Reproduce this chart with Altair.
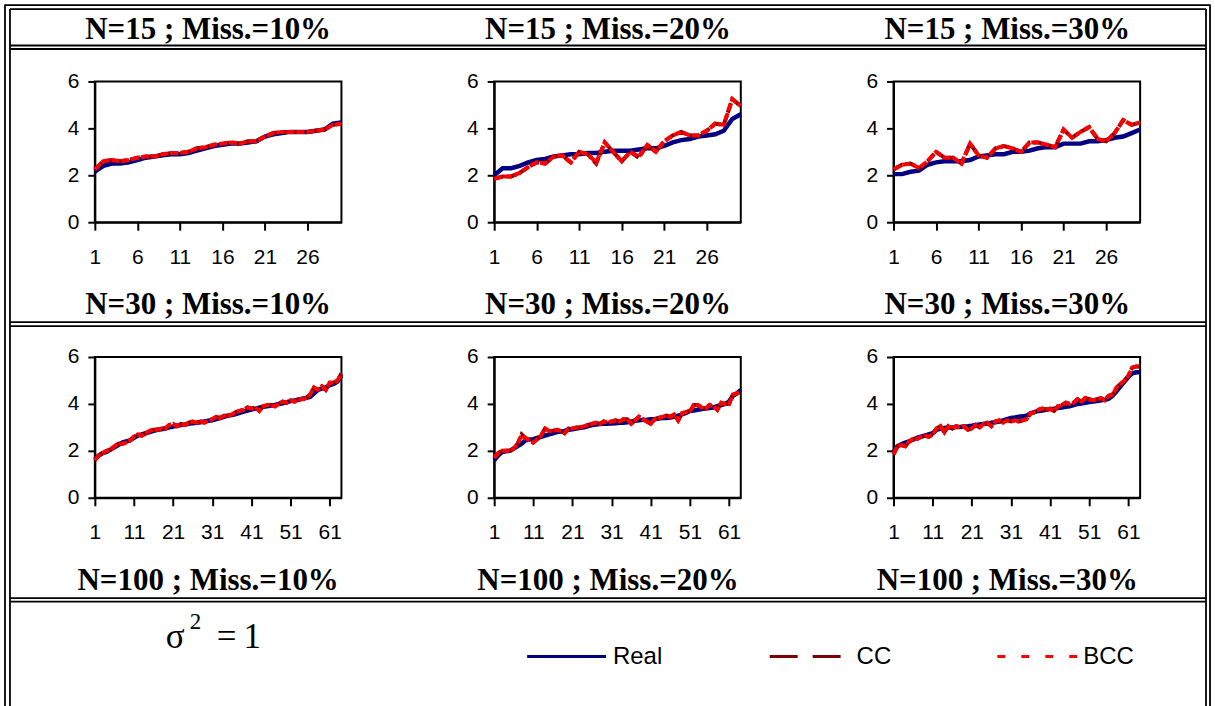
import altair as alt
import pandas as pd

# ---------------- data ----------------
x_top = list(range(1, 31))
x_bottom = list(range(1, 65))
ticks_top = [1, 6, 11, 16, 21, 26]
ticks_bottom = [1, 11, 21, 31, 41, 51, 61]
y_ticks = [0, 2, 4, 6]

row_titles = [
    ["N=15 ; Miss.=10%", "N=15 ; Miss.=20%", "N=15 ; Miss.=30%"],
    ["N=30 ; Miss.=10%", "N=30 ; Miss.=20%", "N=30 ; Miss.=30%"],
    ["N=100 ; Miss.=10%", "N=100 ; Miss.=20%", "N=100 ; Miss.=30%"],
]
series_names = ["Real", "CC", "BCC"]
sigma_parts = ["\u03c3", "2", "=", "1"]

# N=15
real_15_10 = [2.15, 2.4, 2.5, 2.5, 2.55, 2.65, 2.75, 2.8, 2.85, 2.9, 2.9, 2.95, 3.05, 3.15, 3.25,
              3.3, 3.35, 3.35, 3.4, 3.45, 3.65, 3.75, 3.8, 3.85, 3.85, 3.85, 3.9, 3.95, 4.2, 4.25]
cc_15_10 = [2.25, 2.6, 2.65, 2.6, 2.65, 2.75, 2.8, 2.8, 2.9, 2.95, 2.95, 3.0, 3.15, 3.2, 3.3,
            3.35, 3.4, 3.35, 3.45, 3.45, 3.65, 3.8, 3.85, 3.85, 3.85, 3.85, 3.9, 3.95, 4.15, 4.2]
bcc_15_10 = [2.25, 2.6, 2.65, 2.6, 2.65, 2.75, 2.8, 2.8, 2.9, 2.95, 2.95, 3.0, 3.15, 3.2, 3.3,
             3.35, 3.4, 3.35, 3.45, 3.45, 3.65, 3.8, 3.85, 3.85, 3.85, 3.85, 3.9, 3.95, 4.15, 4.2]

real_15_20 = [2.0, 2.3, 2.3, 2.4, 2.55, 2.65, 2.7, 2.8, 2.85, 2.9, 2.9, 2.95, 2.95, 3.0, 3.05,
              3.05, 3.05, 3.1, 3.15, 3.15, 3.25, 3.4, 3.5, 3.55, 3.65, 3.7, 3.75, 3.9, 4.4, 4.6]
cc_15_20 = [1.85, 1.95, 1.95, 2.1, 2.35, 2.55, 2.5, 2.8, 2.85, 2.55, 3.0, 2.9, 2.5, 3.4, 3.0,
            2.6, 3.0, 2.75, 3.3, 3.0, 3.45, 3.7, 3.85, 3.7, 3.7, 3.9, 4.2, 4.15, 5.25, 4.95]
bcc_15_20 = [1.85, 1.95, 1.95, 2.1, 2.35, 2.55, 2.5, 2.8, 2.85, 2.55, 3.0, 2.9, 2.55, 3.4, 3.0,
             2.6, 3.0, 2.8, 3.3, 3.0, 3.45, 3.7, 3.85, 3.7, 3.7, 3.9, 4.2, 4.15, 5.25, 4.95]

real_15_30 = [2.05, 2.05, 2.15, 2.2, 2.45, 2.55, 2.6, 2.6, 2.6, 2.65, 2.8, 2.85, 2.9, 2.9, 3.0,
              3.0, 3.05, 3.15, 3.2, 3.2, 3.35, 3.35, 3.35, 3.45, 3.45, 3.5, 3.6, 3.65, 3.8, 3.95]
cc_15_30 = [2.25, 2.45, 2.5, 2.3, 2.6, 3.0, 2.75, 2.75, 2.5, 3.35, 2.85, 2.75, 3.15, 3.25, 3.15,
            3.0, 3.4, 3.4, 3.3, 3.2, 3.95, 3.6, 3.85, 4.05, 3.55, 3.45, 3.8, 4.35, 4.15, 4.25]
bcc_15_30 = [2.25, 2.45, 2.5, 2.3, 2.6, 3.0, 2.75, 2.75, 2.5, 3.35, 2.85, 2.75, 3.15, 3.25, 3.15,
             3.0, 3.4, 3.4, 3.3, 3.2, 3.95, 3.6, 3.85, 4.05, 3.55, 3.45, 3.8, 4.35, 4.15, 4.25]

# N=30
real_30_10 = [1.65, 1.8, 1.9, 1.95, 2.05, 2.15, 2.25, 2.35, 2.4, 2.45, 2.55, 2.65, 2.7, 2.75, 2.8,
              2.85, 2.9, 2.92, 2.95, 3.0, 3.04, 3.07, 3.1, 3.12, 3.15, 3.18, 3.2, 3.22, 3.25, 3.28,
              3.3, 3.35, 3.4, 3.45, 3.5, 3.53, 3.57, 3.62, 3.67, 3.72, 3.76, 3.8, 3.84, 3.88, 3.9,
              3.93, 3.96, 4.0, 4.03, 4.07, 4.12, 4.15, 4.18, 4.22, 4.26, 4.3, 4.45, 4.6, 4.65, 4.7,
              4.8, 4.85, 4.95, 5.2]
cc_30_10 = [1.6, 1.8, 1.9, 2.0, 2.05, 2.2, 2.3, 2.3, 2.35, 2.45, 2.6, 2.7, 2.65, 2.75, 2.85,
            2.9, 2.9, 2.95, 2.95, 3.1, 3.15, 3.05, 3.15, 3.1, 3.2, 3.25, 3.2, 3.25, 3.2, 3.3,
            3.35, 3.45, 3.4, 3.5, 3.5, 3.55, 3.65, 3.7, 3.75, 3.85, 3.8, 3.85, 3.7, 3.9, 3.95,
            3.95, 3.9, 4.0, 4.1, 4.05, 4.15, 4.1, 4.2, 4.2, 4.25, 4.4, 4.7, 4.6, 4.75, 4.6,
            4.9, 4.9, 5.0, 5.3]
bcc_30_10 = [1.6, 1.8, 1.9, 2.0, 2.05, 2.2, 2.3, 2.3, 2.35, 2.45, 2.6, 2.7, 2.65, 2.75, 2.85,
             2.9, 2.9, 2.95, 2.95, 3.1, 3.15, 3.05, 3.15, 3.1, 3.2, 3.25, 3.2, 3.25, 3.2, 3.3,
             3.35, 3.45, 3.4, 3.5, 3.5, 3.55, 3.65, 3.7, 3.75, 3.85, 3.8, 3.85, 3.7, 3.9, 3.95,
             3.95, 3.9, 4.0, 4.1, 4.05, 4.15, 4.1, 4.2, 4.2, 4.25, 4.4, 4.7, 4.6, 4.75, 4.6,
             4.9, 4.9, 5.0, 5.3]

real_30_20 = [1.6, 1.8, 1.95, 1.98, 2.0, 2.1, 2.2, 2.3, 2.45, 2.48, 2.5, 2.55, 2.6, 2.65, 2.7,
              2.75, 2.8, 2.82, 2.85, 2.9, 2.92, 2.95, 2.98, 3.0, 3.05, 3.1, 3.12, 3.14, 3.15, 3.15,
              3.17, 3.18, 3.2, 3.2, 3.22, 3.25, 3.28, 3.3, 3.32, 3.33, 3.35, 3.35, 3.38, 3.4, 3.4,
              3.42, 3.45, 3.5, 3.55, 3.62, 3.7, 3.72, 3.75, 3.78, 3.8, 3.82, 3.85, 3.9, 3.95, 4.0,
              4.1, 4.35, 4.45, 4.6]
cc_30_20 = [1.7, 1.9, 2.0, 2.0, 2.0, 2.1, 2.3, 2.7, 2.55, 2.45, 2.35, 2.5, 2.65, 2.95, 2.85,
            2.85, 2.9, 2.85, 2.75, 2.95, 2.95, 3.0, 3.0, 3.05, 3.1, 3.15, 3.2, 3.15, 3.25, 3.2,
            3.25, 3.3, 3.25, 3.35, 3.35, 3.15, 3.3, 3.45, 3.35, 3.25, 3.15, 3.35, 3.4, 3.45, 3.5,
            3.45, 3.55, 3.3, 3.6, 3.65, 3.7, 3.95, 3.95, 3.85, 3.8, 3.95, 3.9, 3.75, 4.05, 4.0,
            4.0, 4.4, 4.45, 4.5]
bcc_30_20 = [1.7, 1.9, 2.0, 2.0, 2.0, 2.1, 2.3, 2.65, 2.55, 2.45, 2.35, 2.5, 2.65, 2.95, 2.85,
             2.85, 2.9, 2.85, 2.75, 2.95, 2.95, 3.0, 3.0, 3.05, 3.1, 3.15, 3.2, 3.15, 3.25, 3.2,
             3.25, 3.3, 3.25, 3.35, 3.35, 3.15, 3.3, 3.45, 3.35, 3.25, 3.15, 3.35, 3.4, 3.45, 3.5,
             3.45, 3.55, 3.3, 3.6, 3.65, 3.7, 3.95, 3.95, 3.85, 3.8, 3.95, 3.9, 3.75, 4.05, 4.0,
             4.0, 4.4, 4.45, 4.5]

real_30_30 = [1.95, 2.2, 2.28, 2.35, 2.4, 2.48, 2.55, 2.6, 2.65, 2.7, 2.75, 2.9, 2.95, 2.97, 3.0,
              3.0, 3.02, 3.02, 3.04, 3.05, 3.07, 3.1, 3.12, 3.14, 3.16, 3.2, 3.22, 3.25, 3.3, 3.35,
              3.4, 3.42, 3.45, 3.47, 3.5, 3.6, 3.65, 3.7, 3.72, 3.75, 3.78, 3.8, 3.83, 3.85, 3.88,
              3.9, 3.95, 4.0, 4.02, 4.05, 4.08, 4.1, 4.12, 4.15, 4.18, 4.22, 4.35, 4.55, 4.75, 4.95,
              5.15, 5.3, 5.35, 5.35]
cc_30_30 = [1.85, 2.2, 2.25, 2.2, 2.4, 2.5, 2.5, 2.6, 2.65, 2.6, 2.7, 2.95, 3.05, 2.8, 3.05,
            2.95, 3.05, 3.0, 3.05, 2.9, 2.95, 3.1, 3.0, 3.15, 3.2, 3.05, 3.25, 3.3, 3.2, 3.3,
            3.25, 3.3, 3.25, 3.3, 3.35, 3.6, 3.65, 3.75, 3.8, 3.75, 3.8, 3.7, 3.9, 3.95, 4.05,
            4.0, 4.05, 4.2, 4.1, 4.25, 4.2, 4.15, 4.2, 4.25, 4.15, 4.35, 4.4, 4.7, 4.85, 5.0,
            5.2, 5.55, 5.6, 5.6]
bcc_30_30 = [1.85, 2.2, 2.25, 2.2, 2.4, 2.5, 2.5, 2.6, 2.65, 2.6, 2.7, 2.95, 3.05, 2.8, 3.05,
             2.95, 3.05, 3.0, 3.05, 2.9, 2.95, 3.1, 3.0, 3.15, 3.2, 3.05, 3.25, 3.3, 3.2, 3.3,
             3.25, 3.3, 3.25, 3.3, 3.35, 3.6, 3.65, 3.75, 3.8, 3.75, 3.8, 3.7, 3.9, 3.95, 4.05,
             4.0, 4.05, 4.2, 4.1, 4.25, 4.2, 4.15, 4.2, 4.25, 4.15, 4.35, 4.4, 4.7, 4.85, 5.0,
             5.2, 5.55, 5.6, 5.6]

# ---------------- layout / style ----------------
W, H = 247, 141
OX, OY = 94, 80          # absolute position of first plot area
SANS = "Liberation Sans"
SERIF = "Liberation Serif"
line_styles = {
    "Real": dict(color="#000080", strokeWidth=4.5),
    "CC": dict(color="#800000", strokeWidth=4, strokeDash=[10, 3]),
    "BCC": dict(color="#FF0000", strokeWidth=4, strokeDash=[8, 2]),
}
one = pd.DataFrame({"k": [0]})


def rule(x1, y1, x2, y2, w=1.8, color="black", dash=None):
    kw = dict(color=color, strokeWidth=w)
    if dash:
        kw["strokeDash"] = dash
    enc = dict(x=alt.value(x1 - OX), y=alt.value(y1 - OY))
    if x2 != x1:
        enc["x2"] = alt.value(x2 - OX)
    if y2 != y1:
        enc["y2"] = alt.value(y2 - OY)
    return alt.Chart(one).mark_rule(**kw).encode(**enc)


def label(txt, x, y, font, size, weight="normal", align="left"):
    return alt.Chart(one).mark_text(
        text=txt, font=font, fontSize=size, fontWeight=weight,
        align=align, baseline="alphabetic", color="black"
    ).encode(x=alt.value(x - OX), y=alt.value(y - OY))


decor = []
# invisible page-size box (fixes the chart origin)
decor.append(alt.Chart(one).mark_rect(fill="white", opacity=0.01).encode(
    x=alt.value(-OX), y=alt.value(-OY), x2=alt.value(1215 - OX), y2=alt.value(706 - OY)))
# outer double border
for xv in (4, 1211):
    decor.append(rule(xv, 3, xv, 706))
for xv in (9, 1207):
    decor.append(rule(xv, 7.5, xv, 706))
decor.append(rule(4, 3.5, 1211, 3.5))
decor.append(rule(9, 7.5, 1207, 7.5))
for ya, yb in ((44, 47.5), (321, 325), (597.5, 601)):
    decor.append(rule(9, ya, 1207, ya))
    decor.append(rule(9, yb, 1207, yb))
# row titles
title_cx = [207.5, 608, 1008]
title_base = [37, 313, 589]
for r, row in enumerate(row_titles):
    for c, t in enumerate(row):
        decor.append(label(t, title_cx[c], title_base[r], SERIF, 31, weight="bold", align="center"))
# sigma^2 = 1
decor.append(label(sigma_parts[0], 165, 647, SERIF, 35))
decor.append(label(sigma_parts[1], 189, 628, SERIF, 23))
decor.append(label(sigma_parts[2], 216, 647, SERIF, 35))
decor.append(label(sigma_parts[3], 243, 647, SERIF, 35))
# legend
leg_y = 656
leg_keys = {"Real": (527, 606, None), "CC": (770, 842, [28, 15]), "BCC": (998, 1078, [8, 16])}
leg_text_x = {"Real": 613, "CC": 857, "BCC": 1084}
for name in series_names:
    x1, x2, dash = leg_keys[name]
    decor.append(rule(x1, leg_y, x2, leg_y, w=3, color=line_styles[name]["color"], dash=dash))
    decor.append(label(name, leg_text_x[name], 664, SANS, 24))


def panel(xs, real, cc, bcc, ticks, extra=None):
    n = len(xs)
    df = pd.DataFrame({
        "x": xs * 3,
        "v": real + cc + bcc,
        "s": [series_names[0]] * n + [series_names[1]] * n + [series_names[2]] * n,
    })
    xenc = alt.X("x:Q", scale=alt.Scale(domain=[xs[0], xs[-1]], nice=False, zero=False),
                 axis=alt.Axis(values=ticks, title=None, grid=False, tickSize=8, labelPadding=16,
                               labelFlush=False, labelOverlap=False))
    yenc = alt.Y("v:Q", scale=alt.Scale(domain=[0, 6], nice=False),
                 axis=alt.Axis(values=y_ticks, title=None, grid=False, tickSize=7, labelPadding=9,
                               labelOverlap=False))
    base = alt.Chart(df).encode(x=xenc, y=yenc)
    layers = list(extra) if extra else []
    for name in series_names:
        layers.append(base.transform_filter(alt.datum.s == name).mark_line(**line_styles[name]))
    return alt.layer(*layers).properties(width=W, height=H)


panels = [
    panel(x_top, real_15_10, cc_15_10, bcc_15_10, ticks_top, extra=decor),
    panel(x_top, real_15_20, cc_15_20, bcc_15_20, ticks_top),
    panel(x_top, real_15_30, cc_15_30, bcc_15_30, ticks_top),
    panel(x_bottom, real_30_10, cc_30_10, bcc_30_10, ticks_bottom),
    panel(x_bottom, real_30_20, cc_30_20, bcc_30_20, ticks_bottom),
    panel(x_bottom, real_30_30, cc_30_30, bcc_30_30, ticks_bottom),
]

chart = alt.concat(
    *panels, columns=3, spacing={"row": 135, "column": 153}, bounds="flush"
).properties(padding=0).configure_view(
    stroke="black", strokeWidth=2
).configure_axis(
    labelFont=SANS, labelFontSize=21, labelColor="black",
    domainColor="black", domainWidth=2, tickColor="black", tickWidth=2,
)

chart.save("out.html", embed_options={"renderer": "svg", "actions": False})
